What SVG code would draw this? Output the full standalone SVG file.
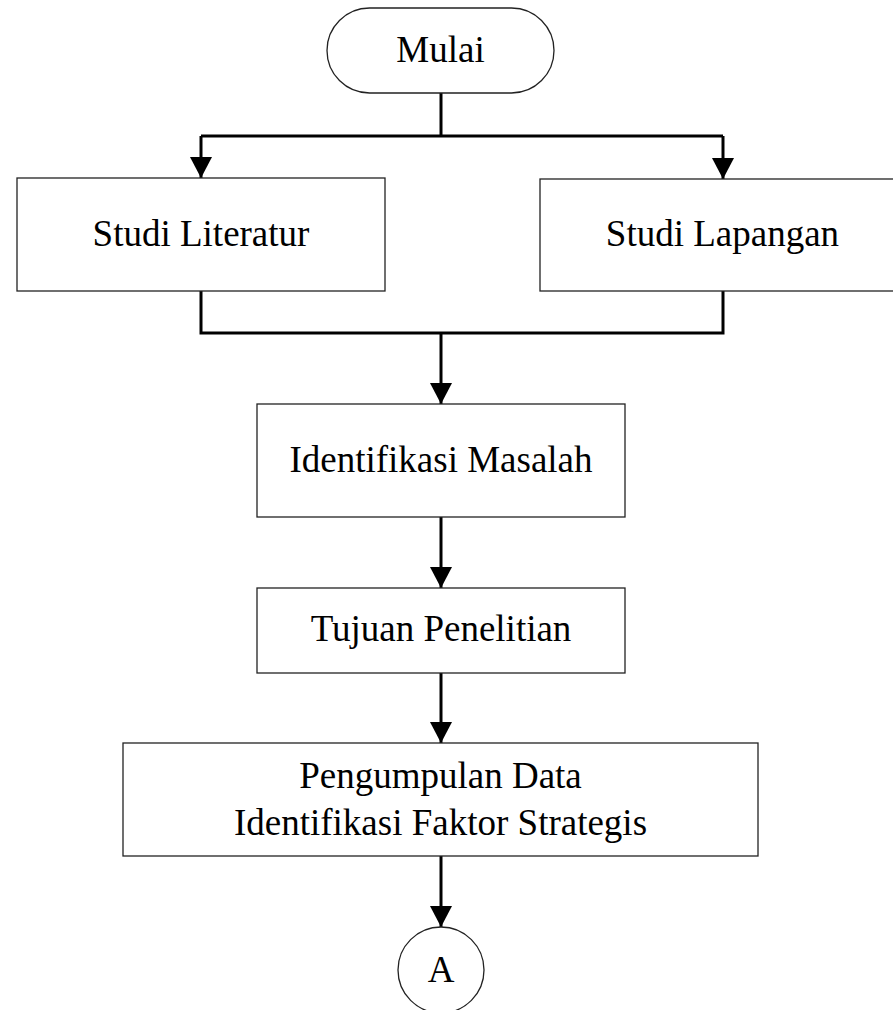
<svg xmlns="http://www.w3.org/2000/svg" width="893" height="1010" viewBox="0 0 893 1010">
<style>
.box{fill:#fff;stroke:#222;stroke-width:1.3}
.lbl{font-family:"Liberation Serif","Times New Roman",serif;font-size:37px;fill:#000;text-anchor:middle}
.con{fill:none;stroke:#000;stroke-width:3}
</style>
<defs>
<marker id="arr" markerUnits="userSpaceOnUse" markerWidth="21" markerHeight="22" viewBox="0 0 21 22" refX="21" refY="11" orient="auto">
<path d="M0,0 L21,11 L0,22 Z" fill="#000"/>
</marker>
</defs>
<rect width="893" height="1010" fill="#fff"/>
<g id="connectors">
<path class="con" d="M441,93 V136"/>
<path class="con" d="M201,136 H723"/>
<path class="con" d="M201,136 V178" marker-end="url(#arr)"/>
<path class="con" d="M723,136 V179" marker-end="url(#arr)"/>
<path class="con" d="M201,291 V333 H723 V291"/>
<path class="con" d="M441,333 V404" marker-end="url(#arr)"/>
<path class="con" d="M441,517 V588" marker-end="url(#arr)"/>
<path class="con" d="M441,673 V743" marker-end="url(#arr)"/>
<path class="con" d="M441,856 V927" marker-end="url(#arr)"/>
</g>
<g id="mulai">
<rect class="box" x="327" y="8" width="227" height="85" rx="42.5" ry="42.5" stroke-width="2"/>
<text class="lbl" x="440.5" y="62">Mulai</text>
</g>
<g id="studi-literatur">
<rect class="box" x="17" y="178" width="368" height="113"/>
<text class="lbl" x="201" y="246">Studi Literatur</text>
</g>
<g id="studi-lapangan">
<rect class="box" x="540" y="179" width="366" height="112"/>
<text class="lbl" x="722.5" y="246">Studi Lapangan</text>
</g>
<g id="identifikasi-masalah">
<rect class="box" x="257" y="404" width="368" height="113"/>
<text class="lbl" x="441" y="472">Identifikasi Masalah</text>
</g>
<g id="tujuan-penelitian">
<rect class="box" x="257" y="588" width="368" height="85"/>
<text class="lbl" x="441" y="641">Tujuan Penelitian</text>
</g>
<g id="pengumpulan-data">
<rect class="box" x="123" y="743" width="635" height="113"/>
<text class="lbl" x="440.5" y="788">Pengumpulan Data</text>
<text class="lbl" x="440.5" y="835">Identifikasi Faktor Strategis</text>
</g>
<g id="connector-a">
<circle class="box" cx="441" cy="970" r="43"/>
<text class="lbl" x="441" y="982">A</text>
</g>
</svg>
